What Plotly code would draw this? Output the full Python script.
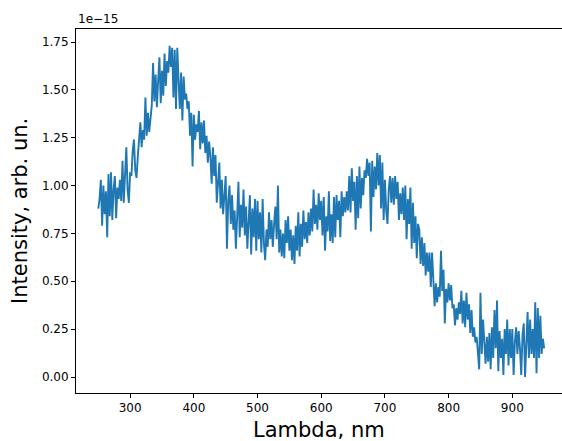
import numpy as np
import plotly.graph_objects as go

# Wavelength grid (nm), 2 nm step
wavelength = np.arange(250, 951, 2)

# Intensity values (units of 1e-15)
intensity = [
    0.88, 0.93, 1.03, 0.79, 1.00, 0.85, 0.97, 0.73, 1.06, 0.84,
    1.07, 0.82, 0.98, 1.05, 0.83, 0.99, 0.93, 1.03, 0.92, 1.13,
    0.91, 1.10, 1.20, 0.98, 0.91, 1.07, 1.05, 1.18, 1.24, 1.08,
    1.04, 1.15, 1.22, 1.33, 1.20, 1.29, 1.24, 1.46, 1.26, 1.38,
    1.28, 1.36, 1.42, 1.64, 1.44, 1.58, 1.41, 1.55, 1.67, 1.43,
    1.60, 1.47, 1.69, 1.52, 1.65, 1.59, 1.73, 1.62, 1.72, 1.46,
    1.71, 1.40, 1.72, 1.55, 1.40, 1.59, 1.34, 1.57, 1.45, 1.48,
    1.40, 1.44, 1.26, 1.38, 1.10, 1.37, 1.24, 1.32, 1.28, 1.39,
    1.19, 1.33, 1.22, 1.34, 1.17, 1.26, 1.12, 1.23, 1.15, 1.01,
    1.20, 1.05, 1.16, 0.91, 1.05, 1.12, 0.88, 1.03, 0.85, 0.97,
    1.05, 0.67, 0.92, 1.00, 0.80, 0.95, 0.77, 0.87, 0.67, 0.84,
    1.02, 0.73, 0.90, 0.78, 0.98, 0.74, 0.89, 0.67, 0.85, 0.95,
    0.64, 0.88, 0.73, 0.93, 0.66, 0.92, 0.72, 0.86, 0.65, 0.93,
    0.70, 0.61, 0.77, 0.68, 0.86, 0.72, 0.82, 0.68, 0.80, 0.89,
    0.72, 1.00, 0.65, 0.77, 0.63, 0.75, 0.62, 0.82, 0.70, 0.84,
    0.66, 0.77, 0.61, 0.74, 0.59, 0.79, 0.66, 0.86, 0.63, 0.80,
    0.68, 0.87, 0.72, 0.81, 0.70, 0.86, 0.74, 0.88, 0.76, 0.98,
    0.80, 0.90, 0.77, 0.96, 0.82, 0.92, 0.74, 0.94, 0.66, 0.84,
    0.76, 0.97, 0.71, 0.85, 0.70, 0.94, 0.73, 0.95, 0.82, 0.92,
    0.73, 0.97, 0.84, 0.94, 0.86, 0.97, 0.87, 1.05, 0.86, 1.09,
    0.92, 1.02, 0.77, 1.05, 0.83, 1.10, 0.88, 1.04, 0.95, 1.08,
    1.04, 1.14, 1.05, 1.12, 0.76, 1.13, 0.94, 1.10, 0.98, 1.17,
    1.00, 1.16, 0.88, 1.12, 0.82, 1.03, 0.87, 0.80, 0.98, 1.05,
    0.91, 1.04, 0.90, 1.05, 0.93, 1.02, 0.82, 0.96, 0.85, 0.99,
    0.82, 1.00, 0.72, 0.93, 0.80, 0.99, 0.67, 0.91, 0.70, 0.84,
    0.62, 0.80, 0.77, 0.59, 0.73, 0.58, 0.70, 0.53, 0.65, 0.55,
    0.65, 0.47, 0.65, 0.50, 0.37, 0.49, 0.39, 0.47, 0.42, 0.66,
    0.45, 0.56, 0.28, 0.46, 0.39, 0.49, 0.40, 0.48, 0.36, 0.38,
    0.27, 0.36, 0.30, 0.39, 0.33, 0.45, 0.28, 0.40, 0.26, 0.44,
    0.30, 0.38, 0.23, 0.35, 0.21, 0.26, 0.18, 0.21, 0.09, 0.04,
    0.44, 0.12, 0.30, 0.14, 0.07, 0.21, 0.08, 0.23, 0.04, 0.26,
    0.10, 0.35, 0.15, 0.40, 0.03, 0.24, 0.10, 0.20, 0.01, 0.25,
    0.12, 0.30, 0.06, 0.25, 0.10, 0.25, 0.01, 0.18, 0.26, 0.12,
    0.24, 0.15, 0.01, 0.22, 0.28, 0.00, 0.20, 0.34, 0.10, 0.30,
    0.12, 0.25, 0.10, 0.39, 0.02, 0.36, 0.10, 0.32, 0.12, 0.20,
    0.15,
]

x_ticks = [300, 400, 500, 600, 700, 800, 900]
y_ticks = [0.00, 0.25, 0.50, 0.75, 1.00, 1.25, 1.50, 1.75]

FONT = "DejaVu Sans"

fig = go.Figure()
fig.add_trace(go.Scatter(
    x=wavelength, y=intensity, mode="lines",
    line=dict(color="#1f77b4", width=1.9),
    showlegend=False, hoverinfo="skip",
))

axis_common = dict(
    showgrid=False, zeroline=False,
    showline=True, linecolor="black", linewidth=1,
    ticks="outside", ticklen=4, tickwidth=1, tickcolor="black",
    tickfont=dict(family=FONT, size=12, color="black"),
)

fig.update_layout(
    width=562, height=441,
    margin=dict(l=76, r=0, t=29, b=48),
    paper_bgcolor="white", plot_bgcolor="white",
    font=dict(family=FONT, color="black"),
    xaxis=dict(range=[215, 978], tickvals=x_ticks,
               ticktext=[str(v) for v in x_ticks], mirror=True, **axis_common),
    yaxis=dict(range=[-0.0836, 1.818], tickvals=y_ticks,
               ticktext=[f"{v:.2f}" for v in y_ticks], mirror=False, **axis_common),
    annotations=[
        dict(text="1e\u221215", xref="paper", yref="paper", x=0, y=1,
             xanchor="left", yanchor="bottom", showarrow=False, yshift=1,
             font=dict(family=FONT, size=12, color="black")),
        dict(text="Lambda, nm", xref="paper", yref="paper", x=0.5, y=0,
             xanchor="center", yanchor="middle", showarrow=False, yshift=-37,
             font=dict(family=FONT, size=21, color="black")),
        dict(text="Intensity, arb. un.", xref="paper", yref="paper", x=0, y=0.5,
             xanchor="center", yanchor="middle", showarrow=False, xshift=-56,
             textangle=-90, font=dict(family=FONT, size=21, color="black")),
    ],
)

fig.write_html(
    "out.html",
    config={"displayModeBar": False},
    post_script="document.body.style.margin='0px';document.body.style.overflow='hidden';",
)
